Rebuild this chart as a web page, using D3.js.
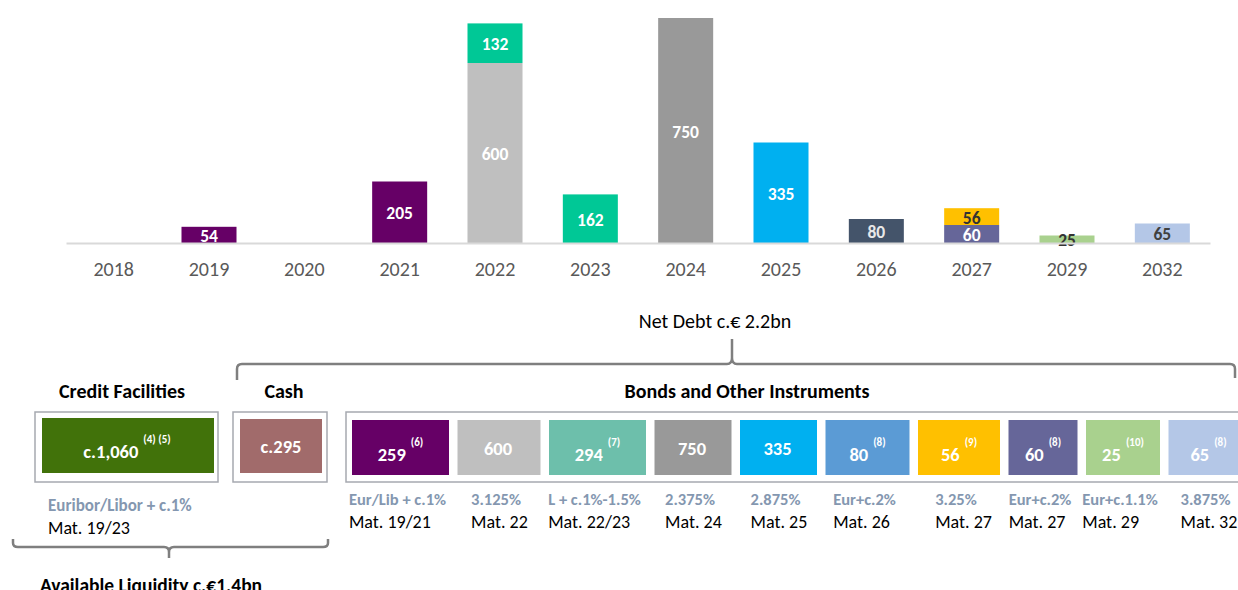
<!DOCTYPE html>
<html>
<head>
<meta charset="utf-8">
<script src="https://cdn.jsdelivr.net/npm/d3@7"></script>
<style>
  body { margin: 0; background: #fff; }
  svg { display: block; font-family: Carlito, Calibri, Lato, sans-serif; }
</style>
</head>
<body>
<script>
// ---- maturity profile (top chart) ----
const years = ["2018", "2019", "2020", "2021", "2022", "2023", "2024", "2025", "2026", "2027", "2029", "2032"];
const bottomValues = [0, 54, 0, 205, 600, 162, 750, 335, 80, 60, 25, 65];
const topValues = [0, 0, 0, 0, 132, 0, 0, 0, 0, 56, 0, 0];
const bottomColors = ["#660066", "#660066", "#660066", "#660066", "#bfbfbf", "#00c896", "#999999", "#00b0f0", "#44546a", "#666699", "#a9d18e", "#b4c7e7"];
const topColors = ["#00c896", "#00c896", "#00c896", "#00c896", "#00c896", "#00c896", "#00c896", "#00c896", "#00c896", "#ffc000", "#00c896", "#00c896"];
const bottomLabelColors = ["#fff", "#fff", "#fff", "#fff", "#fff", "#fff", "#fff", "#fff", "#e8e8e8", "#fff", "#333", "#404040"];
const topLabelColors = ["#fff", "#fff", "#fff", "#fff", "#fff", "#fff", "#fff", "#fff", "#fff", "#333", "#fff", "#fff"];

// ---- debt breakdown (bottom diagram) ----
const creditValue = "c.1,060", creditNote = "(4) (5)";
const creditRate = "Euribor/Libor + c.1%", creditMaturity = "Mat. 19/23";
const cashValue = "c.295";
const instrValues = ["259", "600", "294", "750", "335", "80", "56", "60", "25", "65"];
const instrNotes = ["(6)", "", "(7)", "", "", "(8)", "(9)", "(8)", "(10)", "(8)"];
const instrRates = ["Eur/Lib + c.1%", "3.125%", "L + c.1%-1.5%", "2.375%", "2.875%", "Eur+c.2%", "3.25%", "Eur+c.2%", "Eur+c.1.1%", "3.875%"];
const instrMaturities = ["Mat. 19/21", "Mat. 22", "Mat. 22/23", "Mat. 24", "Mat. 25", "Mat. 26", "Mat. 27", "Mat. 27", "Mat. 29", "Mat. 32"];
const instrColors = ["#660066", "#bfbfbf", "#6dbfab", "#999999", "#00b0f0", "#5b9bd5", "#ffc000", "#666699", "#a9d18e", "#b4c7e7"];

// layout of the instrument boxes (widths in px)
const instrWidths = [97, 83, 97, 77, 77, 84, 82, 69, 74, 80];
const instrGap = 8.5;

const W = 1238, H = 590;
const svg = d3.select("body").append("svg").attr("width", W).attr("height", H);

// ---------- top bar chart ----------
const x = d3.scaleBand().domain(years).range([66, 1210]).paddingInner(0.423).paddingOuter(0.2115);
const y = d3.scaleLinear().domain([0, 750]).range([243, 18]);

const table = years.map((yr, i) => ({ year: yr, bottom: bottomValues[i], top: topValues[i], i }));
const stacked = d3.stack().keys(["bottom", "top"])(table);

const colorsFor = { bottom: bottomColors, top: topColors };
const labelColorsFor = { bottom: bottomLabelColors, top: topLabelColors };

const layers = svg.append("g").selectAll("g")
  .data(stacked)
  .join("g");

layers.selectAll("rect")
  .data(d => d.map(p => ({ key: d.key, p })))
  .join("rect")
  .filter(d => d.p[1] - d.p[0] > 0)
  .attr("x", d => x(d.p.data.year))
  .attr("width", x.bandwidth())
  .attr("y", d => y(d.p[1]))
  .attr("height", d => y(d.p[0]) - y(d.p[1]))
  .attr("fill", d => colorsFor[d.key][d.p.data.i]);

const axis = svg.append("g")
  .attr("transform", "translate(0,243)")
  .call(d3.axisBottom(x).tickSize(0).tickSizeOuter(0).tickPadding(19));
axis.select(".domain").attr("stroke", "#d9d9d9").attr("stroke-width", 2);
axis.selectAll("text")
  .attr("font-family", "Carlito, Calibri, Lato, sans-serif")
  .attr("font-size", 20)
  .attr("fill", "#595959");

layers.selectAll("text")
  .data(d => d.map(p => ({ key: d.key, p })))
  .join("text")
  .filter(d => d.p[1] - d.p[0] > 0)
  .attr("x", d => x(d.p.data.year) + x.bandwidth() / 2)
  .attr("y", d => (y(d.p[0]) + y(d.p[1])) / 2 + 1)
  .attr("dy", "0.35em")
  .attr("text-anchor", "middle")
  .attr("font-size", 17.5)
  .attr("font-weight", "bold")
  .attr("fill", d => labelColorsFor[d.key][d.p.data.i])
  .text(d => d.p[1] - d.p[0]);

// ---------- braces ----------
const brace = svg.append("g")
  .attr("fill", "none")
  .attr("stroke", "#7f7f7f")
  .attr("stroke-width", 2.5);

// top brace (Net Debt)
brace.append("path").attr("d",
  "M237,380 V369 Q237,364 242,364 H727 Q732,364 732,358 V339" +
  " M732,358 Q732,364 737,364 H1230 Q1235,364 1235,369 V378");
// bottom brace (Available Liquidity)
brace.append("path").attr("d",
  "M13,539 V543 Q13,547 18,547 H164 Q169,547 169,552 V558" +
  " M169,552 Q169,547 174,547 H323 Q328,547 328,543 V539");

svg.append("text")
  .attr("x", 715).attr("y", 328)
  .attr("text-anchor", "middle")
  .attr("font-size", 20)
  .attr("fill", "#000")
  .text("Net Debt c.€ 2.2bn");

svg.append("text")
  .attr("x", 151).attr("y", 592)
  .attr("text-anchor", "middle")
  .attr("font-size", 19.5)
  .attr("font-weight", "bold")
  .attr("fill", "#000")
  .text("Available Liquidity c.€1.4bn");

// ---------- section titles ----------
const titles = [["Credit Facilities", 122], ["Cash", 284], ["Bonds and Other Instruments", 747]];
svg.append("g").selectAll("text")
  .data(titles)
  .join("text")
  .attr("x", d => d[1]).attr("y", 398)
  .attr("text-anchor", "middle")
  .attr("font-size", 20)
  .attr("font-weight", "bold")
  .attr("fill", "#000")
  .text(d => d[0]);

// ---------- outer frames ----------
const frame = svg.append("g")
  .attr("fill", "none")
  .attr("stroke", "#a6a9b0")
  .attr("stroke-width", 1.5);
frame.append("rect").attr("x", 35).attr("y", 412).attr("width", 183).attr("height", 70);
frame.append("rect").attr("x", 233).attr("y", 412).attr("width", 94).attr("height", 70);
frame.append("rect").attr("x", 346).attr("y", 412).attr("width", 920).attr("height", 70);

// value text with optional superscript note
function valueText(g, cx, cy, value, note) {
  const t = g.append("text")
    .attr("x", cx).attr("y", note ? cy + 6 : cy)
    .attr("text-anchor", "middle")
    .attr("fill", "#fff")
    .attr("font-weight", "bold")
    .attr("font-size", 18.5);
  t.append("tspan").text(value);
  if (note) {
    t.append("tspan")
      .attr("dx", 5).attr("dy", -15)
      .attr("font-size", 11)
      .text(note);
  }
}

// credit facilities
svg.append("rect").attr("x", 42).attr("y", 418).attr("width", 172).attr("height", 55).attr("fill", "#41720a");
valueText(svg, 127, 452, creditValue, creditNote);
svg.append("text").attr("x", 48).attr("y", 511)
  .attr("font-size", 17).attr("font-weight", "bold").attr("fill", "#8497b0")
  .text(creditRate);
svg.append("text").attr("x", 48).attr("y", 534)
  .attr("font-size", 18).attr("fill", "#000")
  .text(creditMaturity);

// cash
svg.append("rect").attr("x", 240).attr("y", 419).attr("width", 82).attr("height", 54).attr("fill", "#a16b6b");
valueText(svg, 281, 453, cashValue, "");

// bonds and other instruments
let cursor = 352;
const instr = instrValues.map((v, i) => {
  const d = { value: v, note: instrNotes[i], rate: instrRates[i], mat: instrMaturities[i], color: instrColors[i], x0: cursor, w: instrWidths[i] };
  cursor += instrWidths[i] + instrGap;
  return d;
});

const cells = svg.append("g").selectAll("g").data(instr).join("g");
cells.append("rect")
  .attr("x", d => d.x0).attr("y", 420)
  .attr("width", d => d.w).attr("height", 55)
  .attr("fill", d => d.color);
cells.each(function (d) {
  const g = d3.select(this);
  valueText(g, d.x0 + d.w / 2 - (d.note ? 0 : 1), 455, d.value, d.note);
  const rate = g.append("text")
    .attr("x", d.x0 + d.w / 2 - 3).attr("y", 505)
    .attr("text-anchor", "middle")
    .attr("font-size", 16.5).attr("font-weight", "bold")
    .attr("fill", "#8497b0")
    .text(d.rate);
  const left = d.x0 + d.w / 2 - 3 - rate.node().getComputedTextLength() / 2;
  g.append("text")
    .attr("x", left).attr("y", 528)
    .attr("font-size", 18)
    .attr("fill", "#000")
    .text(d.mat);
});
</script>
</body>
</html>
